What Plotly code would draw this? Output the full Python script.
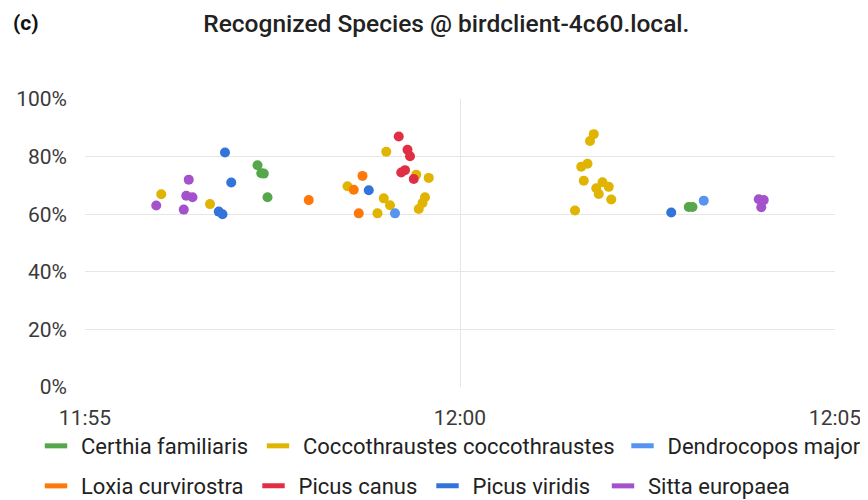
import plotly.graph_objects as go
from datetime import datetime, timedelta

base = datetime(2023, 5, 1, 11, 55, 0)

species = ["Certhia familiaris", "Coccothraustes coccothraustes", "Dendrocopos major",
           "Loxia curvirostra", "Picus canus", "Picus viridis", "Sitta europaea"]
colors = ["#56A64B", "#E0B400", "#5794F2", "#FF780A", "#E02F44", "#3274D9", "#A352CC"]

# seconds after 11:55, confidence %
certhia_t = [138, 141, 143, 146, 483, 486]
certhia_v = [77.0, 74.2, 74.1, 65.9, 62.5, 62.5]

cocco_t = [61, 100,
           241, 265, 275, 210, 239, 244, 272, 270, 267, 234,
           407, 404, 402, 397, 399, 414, 409, 419, 411, 421, 392]
cocco_v = [66.9, 63.5,
           81.7, 73.7, 72.6, 69.7, 65.5, 63.1, 65.9, 63.9, 61.8, 60.3,
           87.8, 85.4, 77.5, 76.5, 71.6, 71.1, 69.0, 69.5, 67.0, 65.1, 61.3]

dendro_t = [248, 495]
dendro_v = [60.3, 64.7]

loxia_t = [179, 222, 215, 219]
loxia_v = [64.9, 73.3, 68.5, 60.3]

canus_t = [251, 258, 260, 253, 256, 263]
canus_v = [87.0, 82.4, 80.1, 74.5, 75.3, 72.2]

viridis_t = [112, 117, 107, 110, 227, 469]
viridis_v = [81.4, 71.0, 60.9, 60.0, 68.3, 60.6]

sitta_t = [57, 83, 81, 86, 79, 539, 543, 541]
sitta_v = [63.0, 72.0, 66.4, 65.9, 61.6, 65.2, 64.9, 62.4]

series = [
    (certhia_t, certhia_v), (cocco_t, cocco_v), (dendro_t, dendro_v),
    (loxia_t, loxia_v), (canus_t, canus_v), (viridis_t, viridis_v), (sitta_t, sitta_v),
]

# legend layout: (paper x, paper y) of each legend entry
legend_x = [-0.072, 0.224, 0.710, -0.072, 0.218, 0.450, 0.684]
legend_y = [-0.205, -0.205, -0.205, -0.344, -0.344, -0.344, -0.344]

fig = go.Figure()
for name, color, (ts, vs) in zip(species, colors, series):
    fig.add_trace(go.Scatter(
        x=[base + timedelta(seconds=s) for s in ts], y=vs, mode="markers",
        marker=dict(color=color, size=10, line=dict(width=0)),
        name=name, showlegend=False,
    ))

legend_layouts = {}
for i, (name, color) in enumerate(zip(species, colors)):
    key = "legend" if i == 0 else f"legend{i + 1}"
    fig.add_trace(go.Scatter(
        x=[None], y=[None], mode="markers",
        marker=dict(symbol="line-ew", size=16, color=color, line=dict(color=color, width=6)),
        name=name, showlegend=True, legend=key,
    ))
    legend_layouts[key] = dict(
        orientation="h", xanchor="left", yanchor="middle",
        x=legend_x[i], y=legend_y[i],
        font=dict(family="Roboto", size=22, color="#222222"), itemwidth=40,
        bgcolor="rgba(0,0,0,0)")

fig.update_layout(
    width=868, height=500,
    margin=dict(l=77, r=41, t=91, b=121, autoexpand=False),
    paper_bgcolor="white", plot_bgcolor="white",
    font=dict(family="Roboto", size=21, color="#3a3a3a"),
    title=dict(text="Recognized Species @ birdclient-4c60.local.", x=0.505, xanchor="center",
               yref="container", y=0.97, yanchor="middle",
               font=dict(family="Roboto", size=24.5, color="#222222", weight=500)),
    xaxis=dict(type="date", range=[base, base + timedelta(minutes=10)],
               tickformat="%H:%M", dtick=300000, tick0=base,
               showgrid=True, gridcolor="#e6e6e6", gridwidth=1, zeroline=False,
               showline=False, ticks="", ticklabelstandoff=16,
               tickfont=dict(size=21, color="#3a3a3a")),
    yaxis=dict(range=[0, 100], dtick=20, ticksuffix="%", showgrid=True,
               gridcolor="#e6e6e6", gridwidth=1, zeroline=False, showline=False,
               ticks="", ticklabelstandoff=17, tickfont=dict(size=21, color="#3a3a3a")),
    annotations=[dict(text="<b>(c)</b>", xref="paper", yref="paper", x=-0.0993, y=1.314,
                      xanchor="left", yanchor="top", showarrow=False,
                      font=dict(family="Roboto", size=21, color="#111111"))],
    **legend_layouts,
)

fig.write_html("out.html")
